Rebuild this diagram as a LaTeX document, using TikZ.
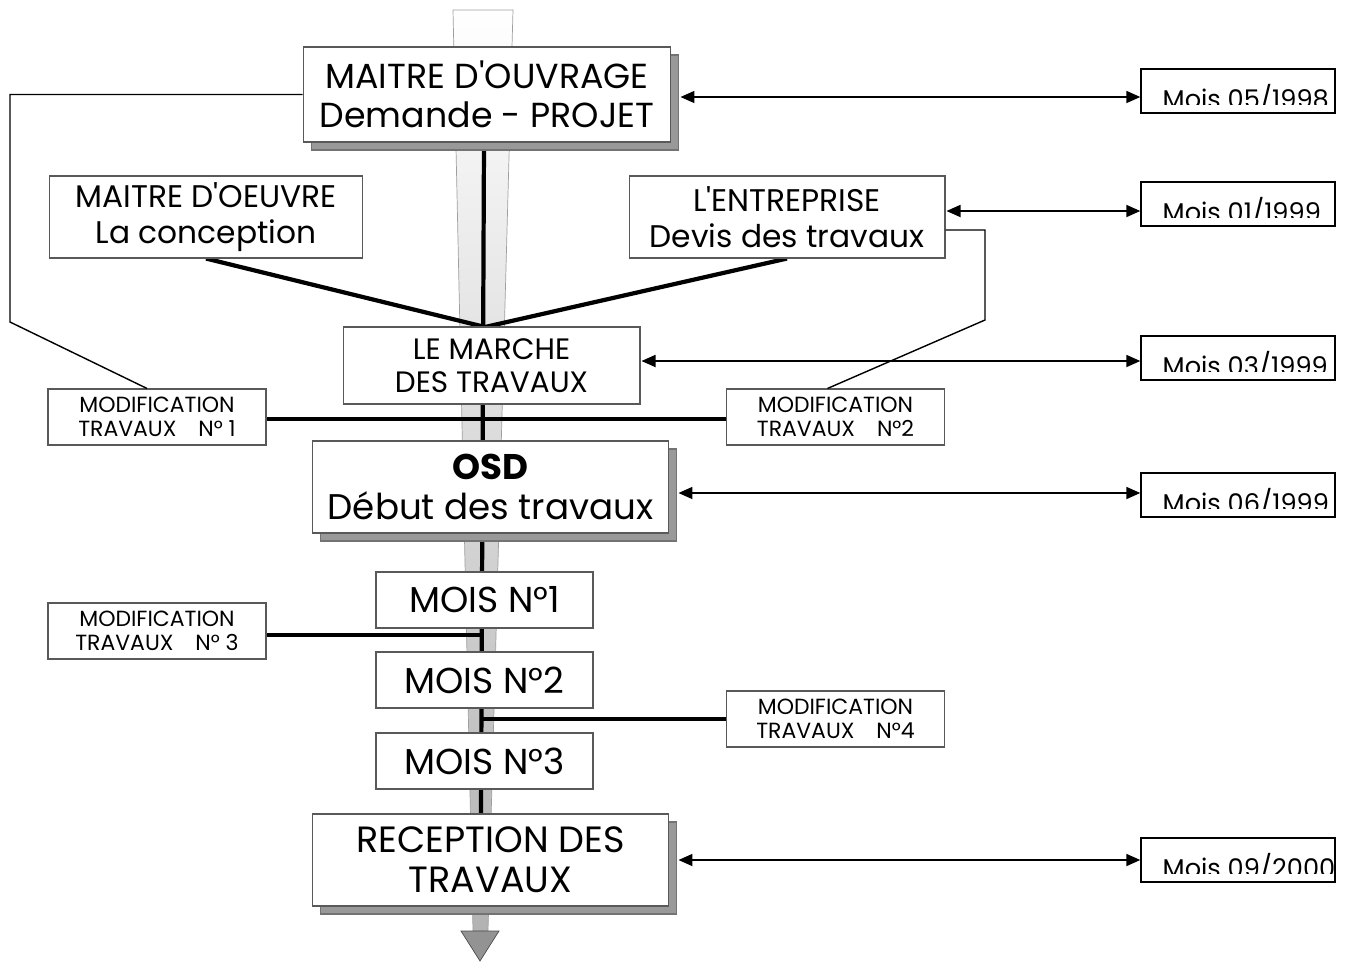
\documentclass[tikz,border=0pt]{standalone}
\usepackage{fontspec}
\setmainfont{Poppins}
\usetikzlibrary{calc,arrows.meta,shadows,backgrounds}

\tikzset{
  box/.style={draw=black!65, fill=white, line width=0.6pt, align=center, inner sep=0pt},
  bigbox/.style={box, drop shadow={shadow xshift=0.16cm, shadow yshift=-0.16cm,
      opacity=1, fill=gray!80, draw=black!55}},
  modbox/.style={box, minimum width=4.36cm, minimum height=1.12cm,
      font=\fontsize{12.5}{13.8}\selectfont},
  moisbox/.style={box, minimum width=4.34cm, minimum height=1.12cm,
      font=\fontsize{20.5}{22}\selectfont},
  datebox/.style={draw=black, fill=white, line width=0.8pt,
      minimum width=3.88cm, minimum height=0.88cm, inner sep=0pt},
  datetxt/.style={anchor=base west, inner sep=0pt, font=\fontsize{14.6}{18}\selectfont},
  spine/.style={line width=2.4pt},
  link/.style={line width=0.8pt},
  dbl/.style={line width=1pt, {Triangle[length=0.28cm,width=0.24cm]}-{Triangle[length=0.28cm,width=0.24cm]}}
}

\begin{document}
\begin{tikzpicture}[x=0.02cm, y=-0.02cm]
  \useasboundingbox (0,0) rectangle (1370,961);

  \node[bigbox, minimum width=7.36cm, minimum height=1.9cm,
        font=\fontsize{19.8}{22.2}\selectfont] (mo) at (487,94.5)
        {MAITRE D\textquotesingle OUVRAGE\\Demande - PROJET};

  \node[box, minimum width=6.28cm, minimum height=1.64cm,
        font=\fontsize{17.8}{20.4}\selectfont] (moe) at (206,217)
        {MAITRE D\textquotesingle OEUVRE\\La conception};
  \node[box, minimum width=6.32cm, minimum height=1.64cm,
        font=\fontsize{17.8}{20.4}\selectfont] (ent) at (787,217)
        {L\textquotesingle ENTREPRISE\\Devis des travaux};

  \node[box, minimum width=5.94cm, minimum height=1.54cm,
        font=\fontsize{16.8}{18.8}\selectfont] (marche) at (491.5,365.5)
        {LE MARCHE\\DES TRAVAUX};

  \node[modbox] (mod1) at (157,417) {MODIFICATION\\TRAVAUX\quad N° 1};
  \node[modbox] (mod2) at (835.5,417) {MODIFICATION\\TRAVAUX\quad N°2};

  \node[bigbox, minimum width=7.14cm, minimum height=1.84cm,
        font=\fontsize{20.3}{23.2}\selectfont] (osd) at (490.5,487)
        {\textbf{OSD}\\Début des travaux};

  \node[moisbox] (m1) at (484.5,600) {MOIS N°1};
  \node[moisbox] (m2) at (484.5,680) {MOIS N°2};
  \node[moisbox] (m3) at (484.5,761) {MOIS N°3};

  \node[modbox] (mod3) at (157,631) {MODIFICATION\\TRAVAUX\quad N° 3};
  \node[modbox] (mod4) at (835.5,719) {MODIFICATION\\TRAVAUX\quad N°4};

  \node[bigbox, minimum width=7.14cm, minimum height=1.84cm,
        font=\fontsize{20.8}{22.8}\selectfont] (rec) at (490.5,860)
        {RECEPTION DES\\TRAVAUX};

  \foreach \n/\y/\m/\yr in {d1/91/05/1998, d2/204/01/1999, d3/358/03/1999,
                            d4/495/06/1999, d5/860/09/2000}{
    \node[datebox] (\n) at (1238,\y) {};
    \begin{scope}
      \clip (\n.north west) rectangle ([yshift=0.18cm]\n.south east);
      \node[datetxt] (\n t) at ([xshift=0.44cm,yshift=-0.8cm]\n.north west) {Mois \m/\yr};
    \end{scope}
  }

  \coordinate (top) at (484,142);
  \coordinate (hub) at (485,327);
  \coordinate (bot) at (481,814);

  \begin{scope}[on background layer]
    \shade[top color=white, bottom color=black!30, draw=gray!75]
      (453,10) -- (513,10) -- (488,931) -- (473,931) -- cycle;
    \filldraw[fill=gray!85, draw=black!70] (461,931) -- (499,931) -- (480,961) -- cycle;
    \draw[spine] (top) -- (bot);
    \draw[spine] (moe.south) -- (hub);
    \draw[spine] (ent.south) -- (hub);
    \draw[spine] ([yshift=-0.04cm]mod1.east) -- ([yshift=-0.04cm]mod2.west);
    \draw[spine] ([yshift=-0.08cm]mod3.east) -- ([yshift=-0.08cm]mod3.east -| bot);
    \draw[spine] (mod4.west) -- (mod4.west -| bot);
  \end{scope}

  \draw[link] (mo.west) -| (10,322) -- ([xshift=-0.2cm]mod1.north);
  \draw[link] ([yshift=-0.26cm]ent.east) -| (985,320) -- ([xshift=-0.16cm]mod2.north);

  \draw[dbl] ([xshift=0.18cm,yshift=-0.05cm]mo.east) -- ([yshift=-0.05cm]mo.east -| d1.west);
  \draw[dbl] ([xshift=0.02cm,yshift=0.12cm]ent.east) -- ([yshift=0.12cm]ent.east -| d2.west);
  \draw[dbl] ([xshift=0.02cm,yshift=0.09cm]marche.east) -- ([yshift=0.09cm]marche.east -| d3.west);
  \draw[dbl] ([xshift=0.18cm,yshift=-0.12cm]osd.east) -- ([yshift=-0.12cm]osd.east -| d4.west);
  \draw[dbl] ([xshift=0.18cm]rec.east) -- (rec.east -| d5.west);
\end{tikzpicture}
\end{document}
